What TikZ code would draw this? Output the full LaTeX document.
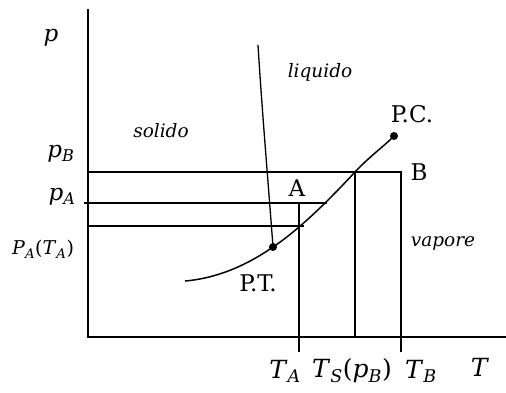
\documentclass[tikz,border=0pt]{standalone}
\usepackage{fontspec}
\setmainfont{DejaVu Serif}
\newcommand{\lbl}[2]{\textit{#1}\textsubscript{\textit{#2}}}
\begin{document}
\begin{tikzpicture}[x=1pt,y=-1pt,
  ln/.style={line width=1.5pt},
  ax/.style={line width=1.6pt},
  plab/.style={font=\fontsize{23}{25}\selectfont},
  tmlab/.style={font=\fontsize{25}{27}\selectfont},
  tlab/.style={font=\fontsize{23}{25}\selectfont},
  rlab/.style={font=\itshape\fontsize{18.5}{20}\selectfont},
  dot/.style={circle,fill=black,inner sep=0pt,minimum size=8pt}]
\useasboundingbox (0,0) rectangle (506,392);
% axes
\coordinate (ytop) at (88,9);
\coordinate (orig) at (88,337);
\coordinate (xend) at (506,337);
\draw[ax] (ytop) -- (orig) -- (xend);
% key coordinates
\coordinate (pbL) at (88,172);
\coordinate (pbR) at (401,172);
\coordinate (tbB) at (401,352);
\coordinate (paL) at (84,203);
\coordinate (paR) at (327,203);
\coordinate (pttL) at (88,226);
\coordinate (pttR) at (304,226);
\coordinate (taT) at (299,203);
\coordinate (taB) at (299,352);
\coordinate (tsT) at (355,172);
\coordinate (tsB) at (355,337);
\coordinate (fusTop) at (258,45);
\node[dot] (PT) at (273,247) {};
\node[dot] (PC) at (394,136) {};
% rectangles / lines
\draw[ln] (pbL) -- (pbR) -- (tbB);
\draw[ln] (paL) -- (paR);
\draw[ln] (pttL) -- (pttR);
\draw[ln] (taT) -- (taB);
\draw[ln] (tsT) -- (tsB);
% curves
\draw[ln] (185,281) .. controls (220,278) and (250,263) .. (PT.center);
\draw[ln] (PT.center) .. controls (300,229) and (330,199) .. (tsT) .. controls (370,156) and (382,148) .. (PC.center);
\draw[line width=1.3pt] (fusTop) .. controls (262,110) and (268,180) .. (PT.center);
% labels
\node[plab] (lp) at (51,38) {\textit{p}};
\node[plab] (lpb) at (61,154) {\lbl{p}{B}};
\node[plab] (lpa) at (62,197) {\lbl{p}{A}};
\node[font=\fontsize{19}{21}\selectfont] (lpt) at (43,249) {\lbl{P}{A}(\lbl{T}{A})};
\node[tmlab] (lta) at (285,371) {\lbl{T}{A}};
\node[tmlab] (lts) at (352,371) {\lbl{T}{S}(\lbl{p}{B})};
\node[tmlab] (ltb) at (421,371) {\lbl{T}{B}};
\node[tmlab] (lt) at (480,367) {\textit{T}};
\node[rlab] (sol) at (161,131) {solido};
\node[rlab] (liq) at (320,72) {liquido};
\node[rlab] (vap) at (443,243) {vapore};
\node[tlab] (lpc) at (412,114) {P.C.};
\node[tlab] (lB) at (419,172) {B};
\node[tlab] (lA) at (297,188) {A};
\node[tlab] (lptt) at (258,283) {P.T.};
\end{tikzpicture}
\end{document}
